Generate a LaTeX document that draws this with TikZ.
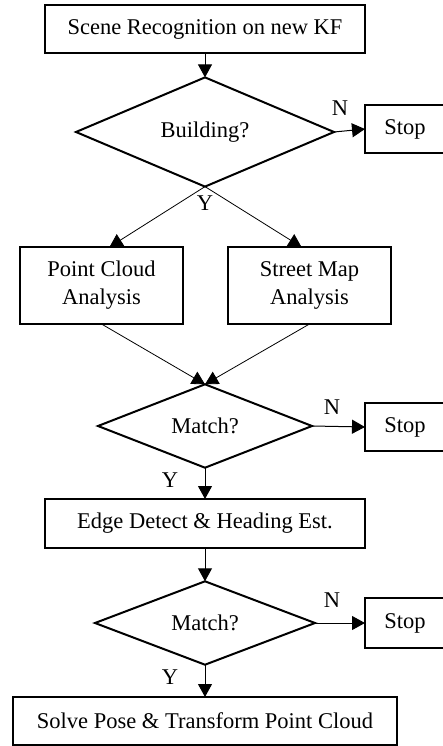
\documentclass[tikz,border=0pt]{standalone}
\usepackage{fontspec}
\setmainfont{Liberation Serif}
\usepackage{tikz}
\usetikzlibrary{shapes,arrows,positioning,calc,arrows.meta}

\tikzset{
    stepbox/.style={draw, line width=1.6pt, inner sep=0pt, outer sep=0pt, align=center},
    decision/.style={draw, diamond, aspect=1, line width=2pt, inner sep=0pt, outer sep=0pt},
    flow/.style={-{Triangle[length=13pt,width=14pt]}, line width=1pt},
    branch/.style={line width=0.8pt}
}

\begin{document}
\begin{tikzpicture}[x=1pt, y=-1pt, font=\fontsize{22.5}{28}\selectfont]
    \useasboundingbox (0,0) rectangle (443,746);

    % Scene check
    \node[stepbox, minimum width=320pt, minimum height=48pt] (scene) at (205,29) {Scene Recognition on new KF};
    \node[decision, minimum width=258pt, minimum height=95pt] (building) at (205,132) {Building?};
    \node[stepbox, minimum width=80pt, minimum height=48pt] (stopA) at (405,129) {Stop};

    % Two analyses
    \node[stepbox, minimum width=163pt, minimum height=77pt] (cloud) at (101.5,285.5) {Point Cloud\\Analysis};
    \node[stepbox, minimum width=163pt, minimum height=77pt] (streetmap) at (309.5,285.5) {Street Map\\Analysis};

    % First match
    \node[decision, minimum width=214pt, minimum height=82pt] (matchA) at (205,426) {Match?};
    \node[stepbox, minimum width=80pt, minimum height=48pt] (stopB) at (405,427) {Stop};
    \node[stepbox, minimum width=320pt, minimum height=49pt] (edge) at (205,523.5) {Edge Detect \& Heading Est.};

    % Second match
    \node[decision, minimum width=220pt, minimum height=82pt] (matchB) at (205,623) {Match?};
    \node[stepbox, minimum width=80pt, minimum height=50pt] (stopC) at (405,623) {Stop};
    \node[stepbox, minimum width=384pt, minimum height=48pt] (solve) at (205,721) {Solve Pose \& Transform Point Cloud};

    % Connectors
    \draw[flow] (scene) -- (building);
    \draw[flow] (building.east) -- (stopA.west);
    \draw[flow, branch] (building.south) -- ([xshift=8pt]cloud.north);
    \draw[flow, branch] (building.south) -- ([xshift=-8pt]streetmap.north);
    \draw[flow, branch] (cloud.south) -- (matchA.north);
    \draw[flow, branch] (streetmap.south) -- (matchA.north);
    \draw[flow] (matchA.east) -- (stopB.west);
    \draw[flow] (matchA.south) -- (edge.north);
    \draw[flow] (edge.south) -- (matchB.north);
    \draw[flow] (matchB.east) -- (stopC.west);
    \draw[flow] (matchB.south) -- (solve.north);

    % Labels
    \node (nA) at (340,108) {N};
    \node (yA) at (205,203) {Y};
    \node (nB) at (332,407) {N};
    \node (yB) at (170,480) {Y};
    \node (nC) at (332,600) {N};
    \node (yC) at (170,677) {Y};
\end{tikzpicture}
\end{document}
